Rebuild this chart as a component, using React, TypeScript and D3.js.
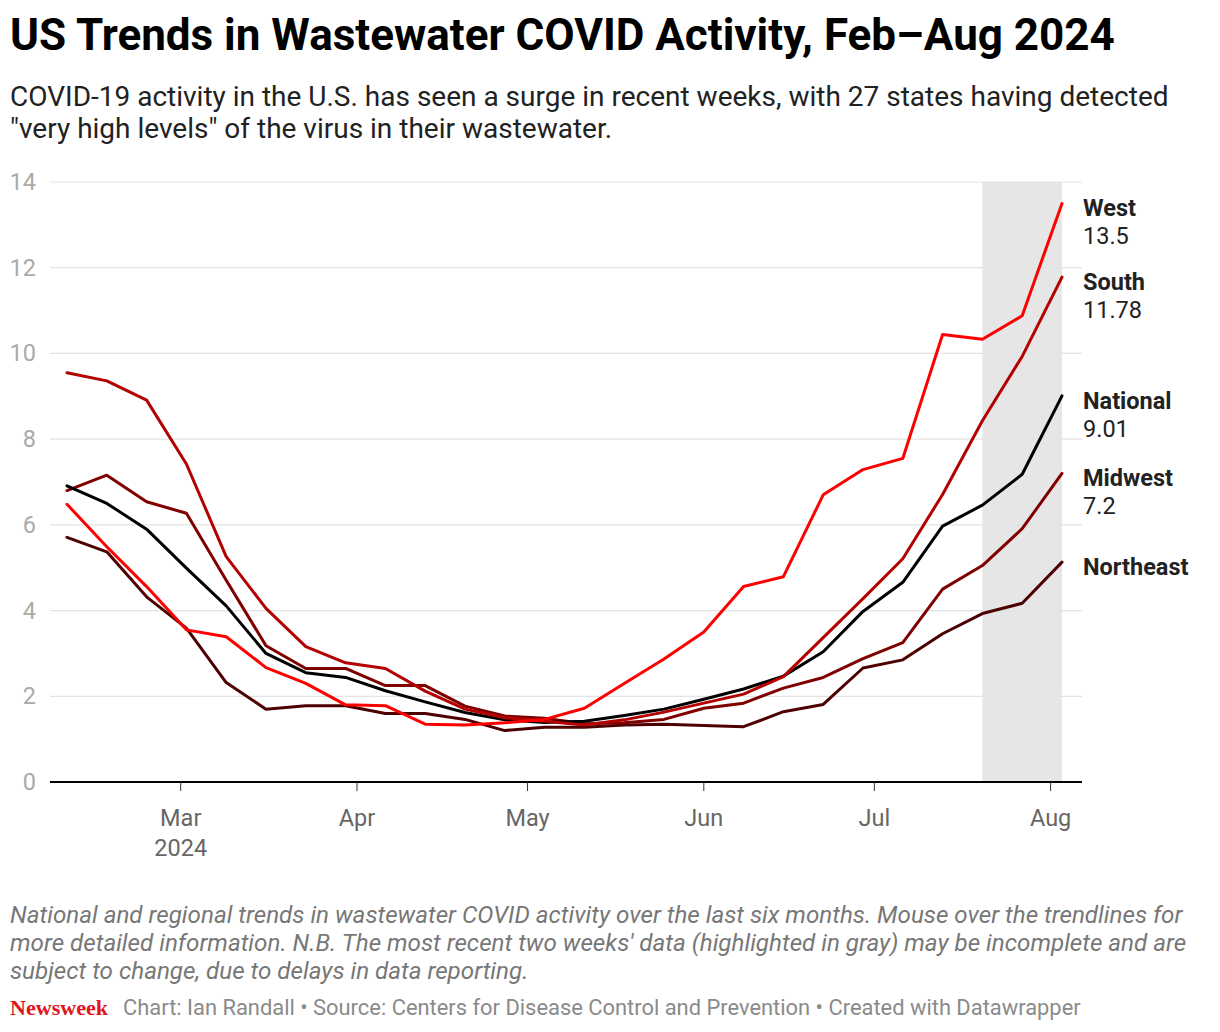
import React from "react";
import * as d3 from "d3";

const startDate = new Date(2024, 1, 10);
const weekCount = 26;
const dates: Date[] = Array.from({ length: weekCount }, (_, i) => d3.timeDay.offset(startDate, i * 7));

const west = [6.48, 5.49, 4.56, 3.55, 3.39, 2.67, 2.3, 1.8, 1.78, 1.35, 1.33, 1.38, 1.46, 1.72, 2.3, 2.87, 3.5, 4.56, 4.79, 6.7, 7.29, 7.55, 10.44, 10.33, 10.88, 13.5];
const south = [9.55, 9.36, 8.91, 7.42, 5.26, 4.05, 3.16, 2.78, 2.65, 2.12, 1.7, 1.5, 1.42, 1.33, 1.45, 1.63, 1.84, 2.05, 2.46, 3.37, 4.28, 5.21, 6.71, 8.43, 9.93, 11.78];
const national = [6.91, 6.5, 5.9, 4.99, 4.11, 3.0, 2.55, 2.44, 2.13, 1.87, 1.62, 1.45, 1.39, 1.42, 1.55, 1.7, 1.93, 2.17, 2.47, 3.04, 3.98, 4.66, 5.97, 6.46, 7.18, 9.01];
const midwest = [6.8, 7.16, 6.54, 6.27, 4.71, 3.18, 2.65, 2.65, 2.25, 2.25, 1.77, 1.54, 1.49, 1.36, 1.38, 1.46, 1.72, 1.84, 2.19, 2.44, 2.88, 3.25, 4.5, 5.05, 5.91, 7.2];
const northeast = [5.71, 5.37, 4.32, 3.59, 2.32, 1.7, 1.78, 1.78, 1.6, 1.6, 1.46, 1.2, 1.28, 1.28, 1.33, 1.35, 1.32, 1.29, 1.64, 1.81, 2.66, 2.85, 3.46, 3.93, 4.17, 5.13];

const seriesNames = ["Northeast", "Midwest", "National", "South", "West"];
const seriesValues = [northeast, midwest, national, south, west];
const seriesColors = ["#4d0000", "#800000", "#000000", "#b30000", "#ff0000"];
const valueLabels = ["", "7.2", "9.01", "11.78", "13.5"];

const yTicks = [0, 2, 4, 6, 8, 10, 12, 14];
const monthTicks = [new Date(2024, 2, 1), new Date(2024, 3, 1), new Date(2024, 4, 1), new Date(2024, 5, 1), new Date(2024, 6, 1), new Date(2024, 7, 1)];
const highlightStart = new Date(2024, 6, 20);
const highlightEnd = new Date(2024, 7, 3);

const title = "US Trends in Wastewater COVID Activity, Feb\u2013Aug 2024";
const subtitleLines = [
  "COVID-19 activity in the U.S. has seen a surge in recent weeks, with 27 states having detected",
  "\"very high levels\" of the virus in their wastewater.",
];
const noteLines = [
  "National and regional trends in wastewater COVID activity over the last six months. Mouse over the trendlines for",
  "more detailed information. N.B. The most recent two weeks' data (highlighted in gray) may be incomplete and are",
  "subject to change, due to delays in data reporting.",
];
const footerText = "Chart: Ian Randall \u2022 Source: Centers for Disease Control and Prevention \u2022 Created with Datawrapper";

const W = 1220;
const H = 1032;
const FONT = "Roboto, 'Noto Sans', sans-serif";

export default function App() {
  const x = d3.scaleTime().domain([dates[0], dates[dates.length - 1]]).range([67, 1062]);
  const y = d3.scaleLinear().domain([0, 14]).range([782, 182]);
  const line = d3
    .line<number>()
    .x((_, i) => x(dates[i]))
    .y((d) => y(d));

  const fmtMonth = d3.timeFormat("%b");

  return (
    <svg
      width={W}
      height={H}
      style={{ position: "absolute", left: 0, top: 0, background: "#fff" }}
      fontFamily={FONT}
    >
      <rect x={0} y={0} width={W} height={H} fill="#fff" />
      <text x={10} y={50} fontSize={44} fontWeight={700} fill="#000">
        {title}
      </text>
      {subtitleLines.map((t, i) => (
        <text key={i} x={10} y={106 + i * 32} fontSize={28} fill="#222">
          {t}
        </text>
      ))}

      {/* highlight */}
      <rect
        x={x(highlightStart)}
        y={y(14)}
        width={x(highlightEnd) - x(highlightStart)}
        height={y(0) - y(14)}
        fill="#e6e6e6"
      />

      {/* grid */}
      {yTicks.map((t) => (
        <g key={t}>
          {t !== 0 && <line x1={50} x2={1082} y1={y(t)} y2={y(t)} stroke="#e3e3e3" strokeWidth={1.2} />}
          <text x={36} y={y(t) + 8} textAnchor="end" fontSize={23.5} fill="#aaaaaa">
            {t}
          </text>
        </g>
      ))}

      {/* lines */}
      {seriesValues.map((vals, k) => (
        <path
          key={seriesNames[k]}
          d={line(vals) || ""}
          fill="none"
          stroke={seriesColors[k]}
          strokeWidth={3}
          strokeLinejoin="round"
          strokeLinecap="round"
        />
      ))}

      {/* x axis */}
      <line x1={50} x2={1082} y1={y(0)} y2={y(0)} stroke="#000" strokeWidth={2} />
      {monthTicks.map((m, i) => (
        <g key={i}>
          <line x1={x(m)} x2={x(m)} y1={y(0)} y2={y(0) + 9} stroke="#333" strokeWidth={1} />
          <text x={x(m)} y={826} textAnchor="middle" fontSize={23.5} fill="#666">
            {fmtMonth(m)}
          </text>
          {i === 0 && (
            <text x={x(m)} y={856} textAnchor="middle" fontSize={23.5} fill="#666">
              2024
            </text>
          )}
        </g>
      ))}

      {/* labels */}
      {seriesValues.map((vals, k) => {
        const ey = y(vals[vals.length - 1]);
        return (
          <g key={"l" + k}>
            <text x={1083} y={ey + 13} fontSize={23.5} fontWeight={700} fill="#222">
              {seriesNames[k]}
            </text>
            {valueLabels[k] && (
              <text x={1083} y={ey + 41} fontSize={23.5} fill="#222">
                {valueLabels[k]}
              </text>
            )}
          </g>
        );
      })}

      {/* notes */}
      {noteLines.map((t, i) => (
        <text key={i} x={10} y={923 + i * 28} fontSize={24.2} fontStyle="italic" fill="#777">
          {t}
        </text>
      ))}
      <text
        x={10}
        y={1015}
        fontSize={22}
        fontWeight={700}
        fontFamily="'Liberation Serif', 'DejaVu Serif', serif"
        fill="#e0161f"
        textLength={98}
        lengthAdjust="spacingAndGlyphs"
      >
        Newsweek
      </text>
      <text x={123} y={1015} fontSize={21.9} fill="#8a8a8a">
        {footerText}
      </text>
    </svg>
  );
}
